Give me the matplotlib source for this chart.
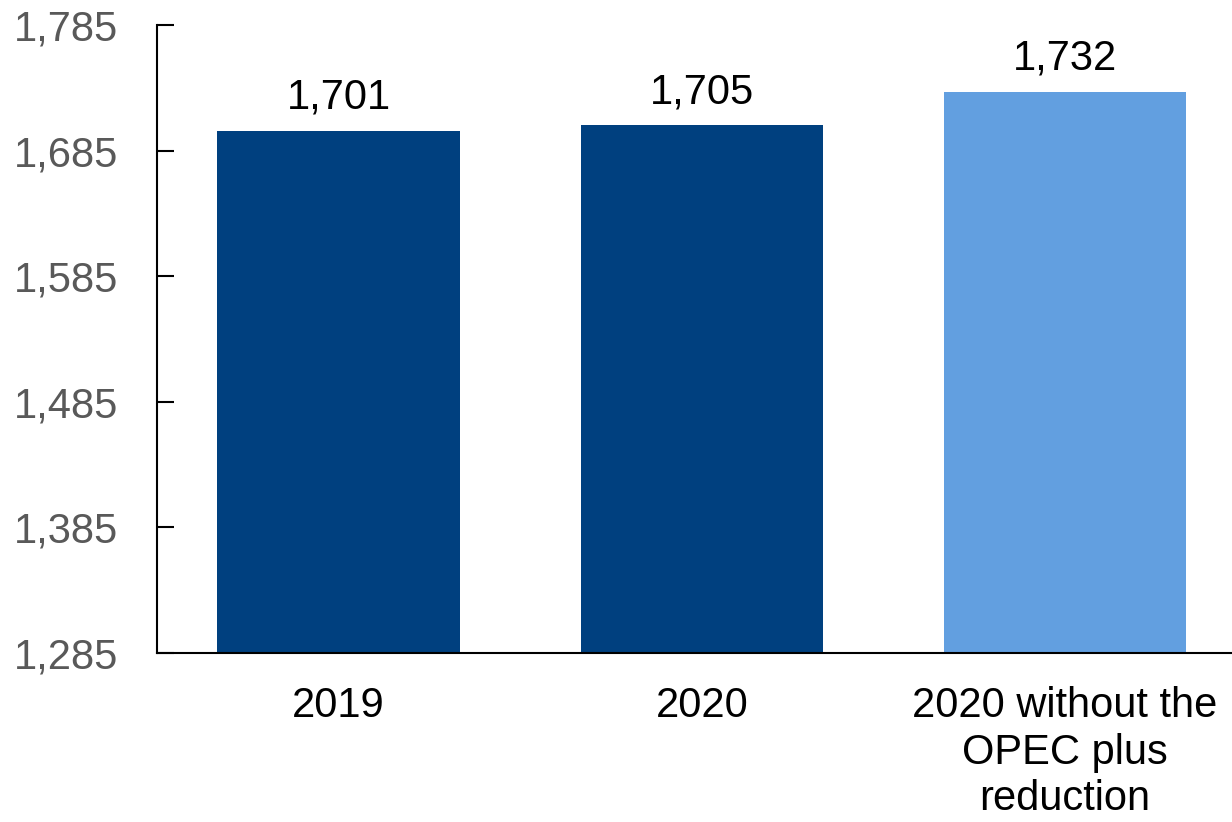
import matplotlib.pyplot as plt

plt.rcParams['font.family'] = ['Liberation Sans', 'DejaVu Sans']

# Values and labels
categories = ['2019', '2020', '2020 without the\nOPEC plus\nreduction']
values = [1701, 1705, 1732]
bar_colors = ['#00407F', '#00407F', '#629FE0']
y_ticks = [1285, 1385, 1485, 1585, 1685, 1785]

fig = plt.figure(figsize=(12.32, 8.22), dpi=100)
ax = fig.add_axes([157 / 1232, 1 - 653 / 822, 1 - 157 / 1232, (653 - 25) / 822])

x = range(len(values))
ax.bar(x, values, width=0.667, color=bar_colors, zorder=2)

# Value labels above the bars
for xi, v in zip(x, values):
    ax.annotate(f'{v:,}', (xi, v), xytext=(0, 9.5), textcoords='offset points',
                ha='center', va='bottom', fontsize=30, color='black')

ax.set_xlim(-0.5, 2.46)
ax.set_ylim(1285, 1785)
ax.set_yticks(y_ticks)
ax.set_yticklabels([f'{t:,}' for t in y_ticks])
ax.set_xticks(list(x))
ax.set_xticklabels(categories, fontsize=30, linespacing=1.2)

ax.spines['top'].set_visible(False)
ax.spines['right'].set_visible(False)
for s in ('left', 'bottom'):
    ax.spines[s].set_linewidth(1.5)
    ax.spines[s].set_color('black')

ax.tick_params(axis='y', direction='in', length=12, width=1.5, pad=28,
               labelsize=30, labelcolor='#595959')
ax.tick_params(axis='x', length=0, pad=24, labelcolor='black')

plt.savefig('out.png', dpi=100)
